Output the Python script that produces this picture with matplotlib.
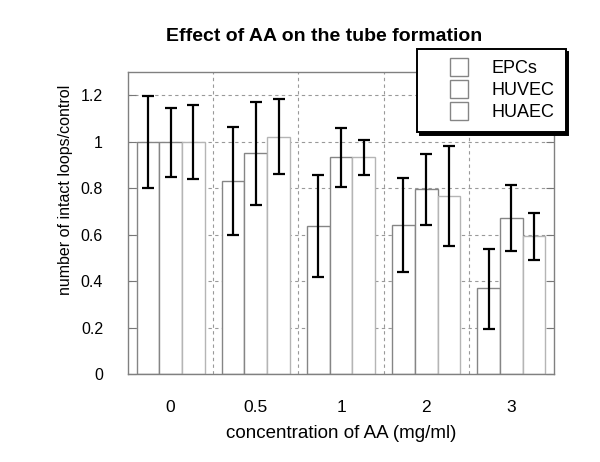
import matplotlib
matplotlib.use("Agg")
import matplotlib.pyplot as plt
from matplotlib.lines import Line2D
import numpy as np

plt.rcParams['font.family'] = ['Liberation Sans', 'DejaVu Sans']

categories = ['0', '0.5', '1', '2', '3']
series = ['EPCs', 'HUVEC', 'HUAEC']
epcs = [1.0, 0.83, 0.637, 0.641, 0.369]
huvec = [1.0, 0.95, 0.932, 0.796, 0.671]
huaec = [1.0, 1.021, 0.932, 0.766, 0.595]
epcs_lo = [0.80, 0.599, 0.417, 0.440, 0.195]
epcs_hi = [1.197, 1.062, 0.857, 0.842, 0.540]
huvec_lo = [0.847, 0.727, 0.803, 0.641, 0.529]
huvec_hi = [1.147, 1.171, 1.059, 0.948, 0.813]
huaec_lo = [0.839, 0.859, 0.856, 0.552, 0.492]
huaec_hi = [1.157, 1.183, 1.008, 0.982, 0.694]
yticks = [0, 0.2, 0.4, 0.6, 0.8, 1.0, 1.2]
ytick_labels = ['0', '0.2', '0.4', '0.6', '0.8', '1', '1.2']

W, H = 600, 462
fig = plt.figure(figsize=(W / 100, H / 100), dpi=100)
ax = fig.add_axes([128 / W, 1 - 374 / H, (554 - 128) / W, (374 - 72) / H])

x = np.arange(len(categories))
bw = 0.8 / 3
vals = [epcs, huvec, huaec]
los = [epcs_lo, huvec_lo, huaec_lo]
his = [epcs_hi, huvec_hi, huaec_hi]
edgecols = ['#858585', '#858585', '#b5b5b5']
for i in range(3):
    xs = x - 0.4 + bw * (i + 0.5)
    v = np.array(vals[i])
    ax.bar(xs, v, width=bw, color='white', edgecolor=edgecols[i],
           linewidth=1.0, zorder=2)
    lo = v - np.array(los[i])
    hi = np.array(his[i]) - v
    ax.errorbar(xs, v, yerr=[lo, hi], fmt='none', ecolor='black',
                elinewidth=1.6, capsize=4.0, capthick=1.6, zorder=3)

ax.set_xlim(-0.5, 4.5)
ax.set_ylim(0, 1.3)
ax.set_xticks(x)
ax.set_xticklabels(categories)
ax.set_xticks(x[:-1] + 0.5, minor=True)
ax.set_yticks(yticks)
ax.set_yticklabels(ytick_labels)
ax.tick_params(axis='x', which='major', length=0, pad=19, labelsize=12.5)
ax.tick_params(axis='x', which='minor', length=0)
ax.tick_params(axis='y', direction='in', length=6, width=0.8, color='#777777',
               left=True, right=True, pad=18, labelsize=11.5)
ax.grid(axis='y', which='major', linestyle=(0, (3, 3)), color='#999999',
        linewidth=0.8, zorder=0)
ax.grid(axis='x', which='minor', linestyle=(0, (3, 3)), color='#999999',
        linewidth=0.8, zorder=0)
ax.set_axisbelow(True)
for s in ax.spines.values():
    s.set_color('#808080')
    s.set_linewidth(1.0)

ax.set_xlabel('concentration of AA (mg/ml)', fontsize=13.5, labelpad=7)
ax.set_ylabel('number of intact loops/control', fontsize=11.5)
ax.yaxis.set_label_coords(73 / W, 1 - 190 / H, transform=fig.transFigure)
fig.text(324 / W, 1 - 40.7 / H, 'Effect of AA on the tube formation',
         ha='center', va='baseline', fontsize=14, fontweight='bold')

handles = [Line2D([], [], linestyle='none', marker='s', markersize=12.5,
                  markerfacecolor='white', markeredgecolor='#858585',
                  markeredgewidth=1.0) for _ in series]
leg = ax.legend(handles, series, loc='upper left',
                bbox_to_anchor=(417 / W, 1 - 49 / H),
                bbox_transform=fig.transFigure, borderaxespad=0,
                fancybox=False, framealpha=1, edgecolor='black',
                fontsize=13, handlelength=3.45, handletextpad=0.1,
                borderpad=0.6, labelspacing=0.29,
                shadow={'color': 'black', 'alpha': 1})
leg.get_frame().set_linewidth(1.4)
leg.set_zorder(10)

fig.savefig('out.png', dpi=100)
